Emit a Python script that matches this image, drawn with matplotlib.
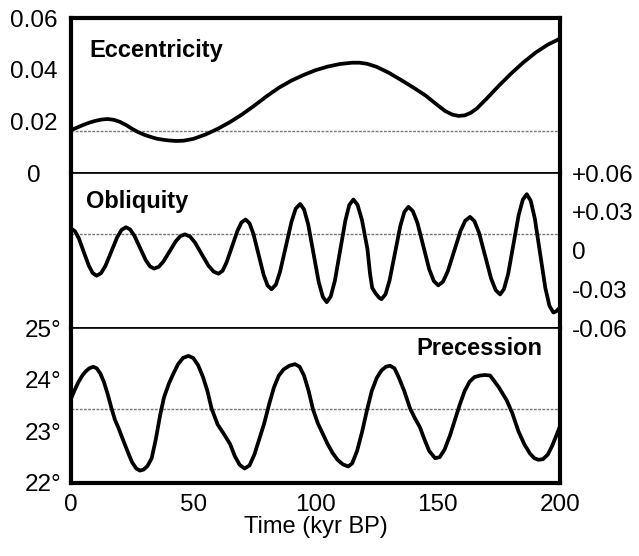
import matplotlib
matplotlib.use('Agg')
import matplotlib.pyplot as plt

plt.rcParams['font.family'] = ['Liberation Sans', 'DejaVu Sans']

# ---- data (time in kyr BP) ----
ecc_t = [0, 2.5, 5, 7.5, 10, 12.5, 15, 17.5, 20, 22.5, 25, 27.5, 30, 32.5,
         35, 37.5, 40, 43, 46, 50, 55, 60, 65, 70, 75, 80, 85, 90, 95, 100,
         105, 110, 115, 118, 121, 125, 130, 135, 140, 145, 150, 153, 156,
         158.5, 161, 163.5, 166, 170, 175, 180, 185, 190, 195, 200]
ecc_v = [0.0166, 0.0176, 0.0186, 0.0195, 0.0202, 0.0207, 0.0209, 0.0206,
         0.0198, 0.0186, 0.0171, 0.0158, 0.0148, 0.0140, 0.0133, 0.0129,
         0.0126, 0.0124, 0.0125, 0.0132, 0.0149, 0.0171, 0.0197, 0.0227,
         0.0261, 0.0297, 0.0330, 0.0357, 0.0379, 0.0398, 0.0412, 0.0422,
         0.0427, 0.0427, 0.0423, 0.0411, 0.0388, 0.0360, 0.0331, 0.0300,
         0.0262, 0.0240, 0.0226, 0.0221, 0.0223, 0.0233, 0.0250, 0.0288,
         0.0338, 0.0385, 0.0428, 0.0466, 0.0497, 0.0520]

obl_t = [0, 1.6, 3.2, 5.25, 7.35, 8.9, 10.5, 12.3, 14.1, 16.5, 18.9, 20.7,
         22.5, 24.2, 25.95, 28.25, 30.55, 32.3, 34, 35.9, 37.8, 40.3, 42.8,
         44.7, 46.6, 48.7, 50.7, 53.45, 56.2, 58.3, 60.3, 62.0, 63.6, 65.85,
         68.1, 69.7, 71.4, 73.0, 74.6, 76.7, 78.8, 80.4, 82, 83.8, 85.5,
         87.85, 90.2, 91.9, 93.7, 95.3, 97.0, 99.15, 101.3, 103.0, 104.6,
         106.2, 107.9, 110.05, 112.2, 113.8, 115.5, 117.2, 119.0, 121.25,
         122.3, 123.2, 124.5, 126, 127, 128.65, 130.3, 132.5, 134.7, 136.35,
         138, 139.8, 141.7, 144.1, 146.5, 148.4, 150.2, 152.15, 154.1, 156.7,
         159.3, 161.25, 163.2, 165.0, 166.9, 169.35, 171.8, 173.7, 175.5,
         177.1, 178.8, 180.95, 183.1, 184.8, 186.4, 188.0, 189.7, 191.85,
         194.0, 195.7, 197.3, 198.5, 200]
obl_v = [0.0170, 0.0150, 0.0095, -0.0013, -0.0120, -0.0175, -0.0195,
         -0.0175, -0.0118, -0.0008, 0.0103, 0.0160, 0.0180, 0.0163, 0.0114,
         0.0020, -0.0074, -0.0123, -0.0140, -0.0126, -0.0085, -0.0008,
         0.0070, 0.0111, 0.0125, 0.0108, 0.0062, -0.0028, -0.0117, -0.0163,
         -0.0180, -0.0157, -0.0093, 0.0030, 0.0153, 0.0217, 0.0240, 0.0211,
         0.0129, -0.0030, -0.0189, -0.0271, -0.0300, -0.0264, -0.0164,
         0.0030, 0.0224, 0.0324, 0.0360, 0.0319, 0.0203, -0.0020, -0.0243,
         -0.0359, -0.0400, -0.0357, -0.0236, -0.0003, 0.0231, 0.0352, 0.0395,
         0.0353, 0.0236, 0.0010, -0.0180, -0.0290, -0.0330, -0.0365, -0.0377,
         -0.0338, -0.0230, -0.0020, 0.0191, 0.0299, 0.0338, 0.0305, 0.0213,
         0.0034, -0.0145, -0.0237, -0.0270, -0.0241, -0.0161, -0.0005,
         0.0151, 0.0231, 0.0260, 0.0227, 0.0136, -0.0040, -0.0216, -0.0307,
         -0.0340, -0.0298, -0.0180, 0.0048, 0.0276, 0.0394, 0.0436, 0.0386,
         0.0247, -0.0022, -0.0291, -0.0430, -0.0480, -0.0470, -0.0440]

pre_t = [0, 1.5, 3, 4.5, 6, 7.5, 9.1, 10.5, 12, 13.5, 15, 16.6, 18, 19.3,
         21, 23.4, 25, 26.7, 28.2, 29.7, 31.3, 33, 34.7, 36.4, 38, 40, 41.9,
         43.8, 45.8, 48, 50, 52, 54, 55.8, 57.5, 60, 62.5, 65, 67, 69, 71,
         73, 75, 77, 79, 81, 83, 85, 87, 89.3, 91.6, 93.5, 95.3, 97.2, 99,
         101, 103, 105, 107, 109, 111.2, 113.4, 115, 117, 119, 121, 123, 125,
         127, 128.8, 130.5, 132.3, 134, 136.3, 138.7, 140.7, 142.7, 144.5,
         146.5, 148.9, 150.8, 152.8, 155, 157, 159.1, 161, 163, 165, 167.3,
         169.3, 171.4, 173, 175, 178.2, 180.5, 183, 185.4, 187.7, 189.5,
         191.1, 193, 195, 196.8, 198.5, 200]
pre_v = [23.63, 23.80, 23.95, 24.07, 24.16, 24.22, 24.25, 24.22, 24.12,
         23.95, 23.72, 23.44, 23.22, 23.08, 22.87, 22.58, 22.40, 22.28,
         22.24, 22.26, 22.33, 22.48, 22.85, 23.30, 23.65, 23.92, 24.12,
         24.30, 24.42, 24.46, 24.42, 24.28, 24.05, 23.78, 23.44, 23.13,
         22.95, 22.76, 22.52, 22.35, 22.28, 22.34, 22.55, 22.85, 23.15,
         23.52, 23.85, 24.08, 24.20, 24.27, 24.30, 24.25, 24.08, 23.78,
         23.42, 23.15, 22.95, 22.75, 22.58, 22.45, 22.36, 22.32, 22.38,
         22.62, 22.98, 23.40, 23.78, 24.03, 24.18, 24.25, 24.27, 24.22,
         24.05, 23.78, 23.44, 23.25, 23.08, 22.85, 22.62, 22.48, 22.50,
         22.65, 22.92, 23.22, 23.53, 23.78, 23.96, 24.05, 24.08, 24.09,
         24.08, 23.98, 23.85, 23.60, 23.35, 23.00, 22.75, 22.57, 22.48,
         22.45, 22.46, 22.55, 22.72, 22.92, 23.10]

# present-day reference levels (dotted lines)
ecc_now = 0.0163
obl_now = 0.013
pre_now = 23.44

x_ticks = [0, 50, 100, 150, 200]
ecc_ticks = [0, 0.02, 0.04, 0.06]
ecc_labels = ['0', '0.02', '0.04', '0.06']
obl_ticks = [0.06, 0.03, 0, -0.03, -0.06]
obl_labels = ['+0.06', '+0.03', '0', '-0.03', '-0.06']
pre_ticks = [22, 23, 24, 25]
pre_labels = ['22°', '23°', '24°', '25°']

fig = plt.figure(figsize=(6.39, 5.56), dpi=100)
gs = fig.add_gridspec(3, 1, hspace=0, left=0.1111, right=0.8764,
                      top=0.9676, bottom=0.1313)
ax1 = fig.add_subplot(gs[0])
ax2 = fig.add_subplot(gs[1], sharex=ax1)
ax3 = fig.add_subplot(gs[2], sharex=ax1)

TICK_FS = 17.5
NAME_FS = 17
LINE_W = 2.7

for ax in (ax1, ax2, ax3):
    ax.set_xlim(0, 200)
    ax.spines['left'].set_linewidth(3)
    ax.spines['right'].set_linewidth(3)
    ax.spines['top'].set_linewidth(1.2)
    ax.spines['bottom'].set_linewidth(1.2)
    ax.tick_params(length=0, labelsize=TICK_FS)
ax1.spines['top'].set_linewidth(3)
ax3.spines['bottom'].set_linewidth(3)

dot = dict(color='#777777', lw=1.0, ls=(0, (2, 1)), zorder=1)
curve = dict(color='black', lw=LINE_W, solid_capstyle='round',
             solid_joinstyle='round')

# Eccentricity
ax1.axhline(ecc_now, **dot)
ax1.plot(ecc_t, ecc_v, **curve)
ax1.set_ylim(0, 0.06)
ax1.set_yticks(ecc_ticks)
ax1.set_yticklabels(ecc_labels)
ax1.tick_params(axis='y', pad=26.5)
for lbl in ax1.get_yticklabels():
    lbl.set_horizontalalignment('center')
ax1.tick_params(axis='x', labelbottom=False)
ax1.text(0.037, 0.748, 'Eccentricity', transform=ax1.transAxes,
         fontsize=NAME_FS, fontweight='bold', va='baseline', ha='left')

# Obliquity
ax2.axhline(obl_now, **dot)
ax2.plot(obl_t, obl_v, **curve)
ax2.set_ylim(-0.06, 0.06)
ax2.yaxis.tick_right()
ax2.set_yticks(obl_ticks)
ax2.set_yticklabels(obl_labels)
ax2.tick_params(axis='y', pad=8.5)
ax2.tick_params(axis='x', labelbottom=False)
ax2.text(0.031, 0.773, 'Obliquity', transform=ax2.transAxes,
         fontsize=NAME_FS, fontweight='bold', va='baseline', ha='left')

# Precession
ax3.axhline(pre_now, **dot)
ax3.plot(pre_t, pre_v, **curve)
ax3.set_ylim(22, 25)
ax3.set_yticks(pre_ticks)
ax3.set_yticklabels(pre_labels)
ax3.tick_params(axis='y', pad=6.5)
ax3.set_xticks(x_ticks)
ax3.set_xticklabels([str(v) for v in x_ticks])
ax3.tick_params(axis='x', pad=8)
ax3.set_xlabel('Time (kyr BP)', fontsize=17, labelpad=0)
ax3.text(0.963, 0.827, 'Precession', transform=ax3.transAxes,
         fontsize=NAME_FS, fontweight='bold', va='baseline', ha='right')

fig.savefig('out.png', dpi=100)
